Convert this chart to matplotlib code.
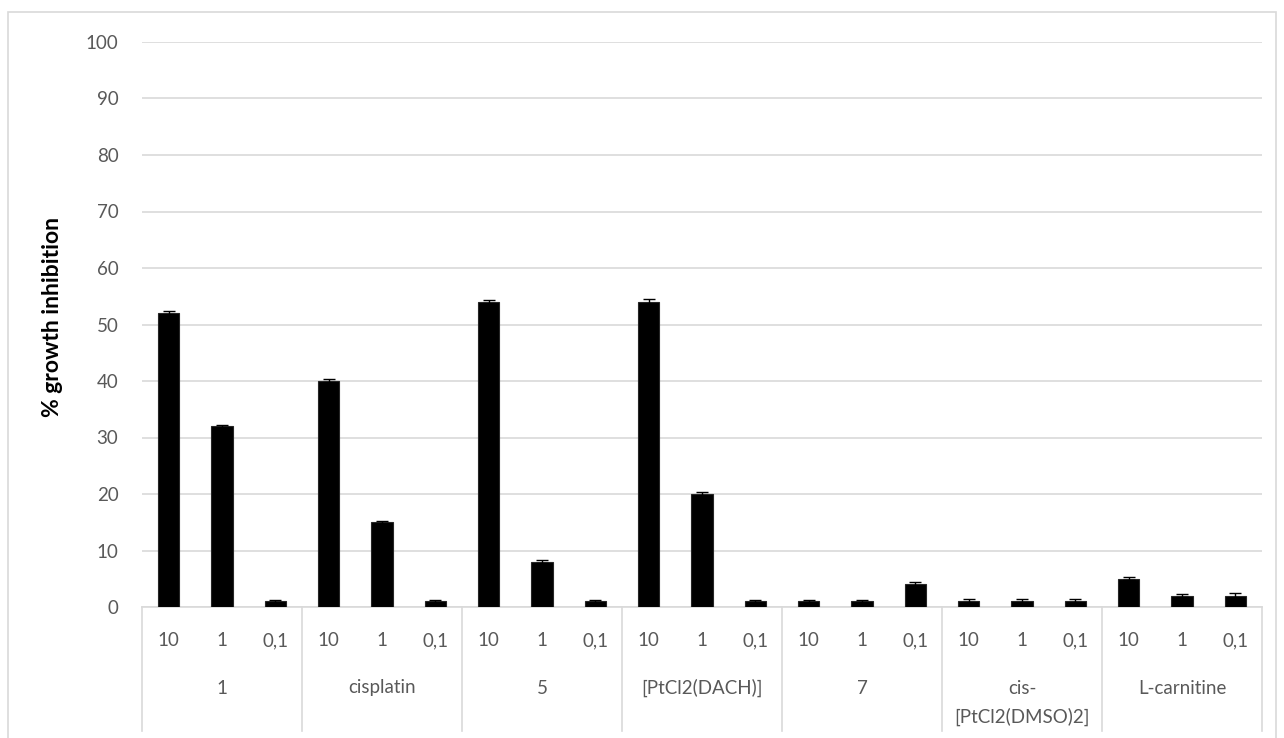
import matplotlib.pyplot as plt
from matplotlib.patches import Rectangle
import matplotlib.transforms as mtransforms
import numpy as np

compounds = ['1', 'cisplatin', '5', '[PtCl2(DACH)]', '7',
             'cis-\n[PtCl2(DMSO)2]', 'L-carnitine']
doses = ['10', '1', '0,1']
inhibition = [52, 32, 1,
              40, 15, 1,
              54, 8, 1,
              54, 20, 1,
              1, 1, 4,
              1, 1, 1,
              5, 2, 2]
errors = [0.4, 0.3, 0.3,
          0.3, 0.3, 0.3,
          0.4, 0.3, 0.3,
          0.5, 0.4, 0.3,
          0.3, 0.3, 0.4,
          0.4, 0.4, 0.4,
          0.3, 0.3, 0.4]

W, H = 1284, 738
text_color = '#595959'
line_color = '#d9d9d9'
fs = 13.5
plt.rcParams['font.family'] = ['Lato', 'DejaVu Sans']

fig = plt.figure(figsize=(W / 100, H / 100), dpi=100)
fig.patch.set_facecolor('white')

# chart frame
fig.patches.append(Rectangle((8 / W, -0.01), 1268 / W, 1 - 12 / H + 0.01,
                             transform=fig.transFigure, fill=False,
                             edgecolor=line_color, linewidth=1.2))

x0, x1, y0, y1 = 142, 1262, 607, 42
ax = fig.add_axes([x0 / W, 1 - y0 / H, (x1 - x0) / W, (y0 - y1) / H])

n = len(inhibition)
x = np.arange(n) + 0.5
ax.bar(x, inhibition, width=0.4, color='black', edgecolor='#262626',
       linewidth=0.8, zorder=3)
ax.errorbar(x, inhibition, yerr=errors, fmt='none', ecolor='black',
            elinewidth=1, capsize=4, capthick=1, zorder=4)

ax.set_xlim(0, n)
ax.set_ylim(0, 100)
ax.set_yticks(np.arange(0, 101, 10))
ax.tick_params(axis='y', length=0, pad=17, labelsize=fs, labelcolor=text_color)
ax.set_xticks([])
ax.yaxis.grid(True, color=line_color, linewidth=1.2)
ax.set_axisbelow(True)
for side in ['top', 'right', 'left']:
    ax.spines[side].set_visible(False)
ax.spines['bottom'].set_color(line_color)
ax.spines['bottom'].set_linewidth(1.2)

ax.set_ylabel('% growth inhibition', fontsize=16.5, fontweight='bold',
              color='black')
ax.yaxis.set_label_coords(63 / W, 1 - 317 / H, transform=fig.transFigure)

# two-level category axis
trans = mtransforms.blended_transform_factory(ax.transData, fig.transFigure)
for i in range(n):
    ax.text(x[i], 1 - 641 / H, doses[i % 3], transform=trans, ha='center',
            va='center', fontsize=fs, color=text_color)
for g, name in enumerate(compounds):
    for k, part in enumerate(name.split('\n')):
        ax.text(3 * g + 1.5, 1 - (688 + 29 * k) / H, part, transform=trans,
                ha='center', va='center', fontsize=fs, color=text_color)
for g in range(len(compounds) + 1):
    ax.plot([3 * g, 3 * g], [1 - y0 / H, 1 - 731 / H], transform=trans,
            color=line_color, linewidth=1.2, clip_on=False)

fig.savefig('out.png', dpi=100)
